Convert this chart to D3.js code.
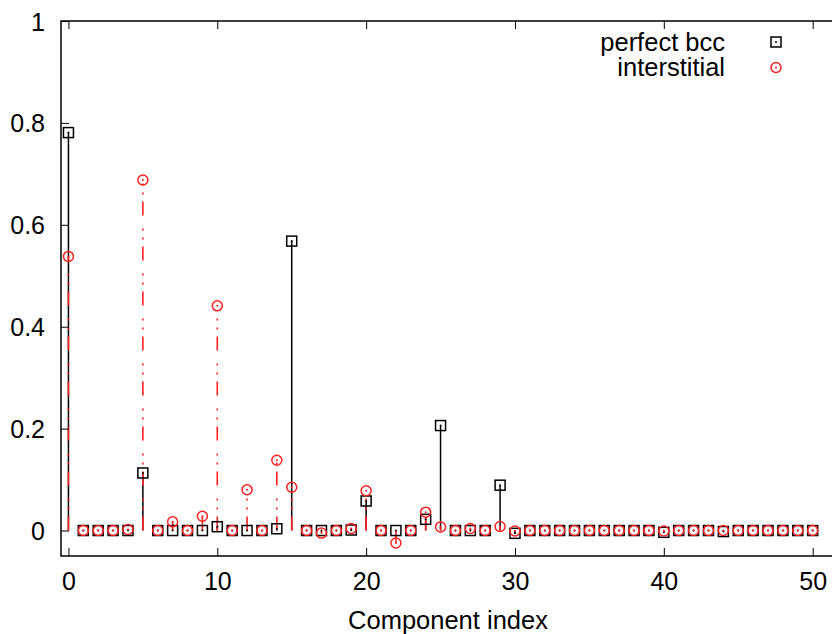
<!DOCTYPE html>
<html>
<head>
<meta charset="utf-8">
<script src="https://cdn.jsdelivr.net/npm/d3@7"></script>
<style>
  body { margin: 0; background: #fff; }
  text { font-family: "Liberation Sans", Arial, sans-serif; fill: #000; }
</style>
</head>
<body>
<div id="chart"></div>
<script>
// data, component index 0..50
const perfectBcc = [
  0.781, 0, 0, 0, 0, 0.113, 0, 0, 0, 0,
  0.0075, 0, 0, 0, 0.0035, 0.568, 0, 0, 0, 0.001,
  0.058, 0, 0, 0, 0.022, 0.206, 0, 0, 0, 0.089,
  -0.0055, 0, 0, 0, 0, 0, 0, 0, 0, 0,
  -0.0035, 0, 0, 0, -0.002, 0, 0, 0, 0, 0, 0
];
const interstitial = [
  0.538, 0, 0, 0, 0.002, 0.688, 0, 0.017, 0, 0.028,
  0.441, 0, 0.08, 0, 0.138, 0.085, 0, -0.005, 0, 0.004,
  0.078, 0, -0.0245, 0, 0.036, 0.007, 0, 0.004, 0, 0.008,
  -0.001, 0, 0, 0, 0, 0, 0, 0, 0, 0,
  -0.001, 0, 0, 0, 0, 0, 0, 0, 0, 0, 0
];
const xTicks = [0, 10, 20, 30, 40, 50];
const yTicks = [0, 0.2, 0.4, 0.6, 0.8, 1];
const seriesNames = ["perfect bcc", "interstitial"];

const width = 832, height = 634;
const margin = { left: 61, right: -3, top: 21, bottom: 78 };
const red = "#ff2020";
const fontSize = "25px";

const svg = d3.select("#chart").append("svg")
    .attr("width", width)
    .attr("height", height);

const x = d3.scaleLinear().domain([-0.5, 51.5]).range([margin.left, width - margin.right]);
const y = d3.scaleLinear().domain([-0.05, 1]).range([height - margin.bottom, margin.top]);

// impulses - black first, red dash-dot-dot on top
svg.append("g").selectAll("line")
    .data(perfectBcc.map((v, i) => [i, v]).filter(d => d[1] !== 0))
    .join("line")
    .attr("x1", d => x(d[0])).attr("x2", d => x(d[0]))
    .attr("y1", y(0)).attr("y2", d => y(d[1]))
    .attr("stroke", "#000")
    .attr("stroke-width", 1.5);

svg.append("g").selectAll("line")
    .data(interstitial.map((v, i) => [i, v]).filter(d => d[1] !== 0))
    .join("line")
    .attr("x1", d => x(d[0])).attr("x2", d => x(d[0]))
    .attr("y1", y(0)).attr("y2", d => y(d[1]))
    .attr("stroke", red)
    .attr("stroke-width", 1.6)
    .attr("stroke-dasharray", "14,7,2,7,2,13");

// points
function square(g, cx, cy) {
    g.append("rect")
        .attr("x", cx - 5).attr("y", cy - 5)
        .attr("width", 10).attr("height", 10)
        .attr("fill", "none").attr("stroke", "#000").attr("stroke-width", 1.5);
    g.append("circle").attr("cx", cx).attr("cy", cy).attr("r", 1).attr("fill", "#000");
}
function ring(g, cx, cy) {
    g.append("circle")
        .attr("cx", cx).attr("cy", cy).attr("r", 5)
        .attr("fill", "none").attr("stroke", red).attr("stroke-width", 1.5);
    g.append("circle").attr("cx", cx).attr("cy", cy).attr("r", 1).attr("fill", red);
}

const gSq = svg.append("g");
perfectBcc.forEach((v, i) => square(gSq, x(i), y(v)));
const gCi = svg.append("g");
interstitial.forEach((v, i) => ring(gCi, x(i), y(v)));

// axes, ticks pointing inward like gnuplot
const xAxisB = d3.axisBottom(x).tickValues(xTicks).tickSize(-8).tickPadding(16).tickFormat(d3.format("d"));
const xAxisT = d3.axisTop(x).tickValues(xTicks).tickSize(-8).tickFormat("");
const yAxisL = d3.axisLeft(y).tickValues(yTicks).tickSize(-8).tickPadding(16).tickFormat(d => d3.format("")(+d.toFixed(1)));

function styleAxis(g) {
    g.select(".domain").remove();
    g.selectAll(".tick line").attr("stroke", "#000").attr("stroke-width", 1);
    g.selectAll("text").style("font-size", fontSize).attr("fill", "#000");
}

svg.append("g").attr("transform", `translate(0,${y(-0.05)})`).call(xAxisB).call(styleAxis);
svg.append("g").attr("transform", `translate(0,${y(1)})`).call(xAxisT).call(styleAxis);
svg.append("g").attr("transform", `translate(${x(-0.5)},0)`).call(yAxisL).call(styleAxis)
    .selectAll("text").attr("dy", "0.36em");

// border
svg.append("rect")
    .attr("x", x(-0.5)).attr("y", y(1))
    .attr("width", x(51.5) - x(-0.5)).attr("height", y(-0.05) - y(1))
    .attr("fill", "none").attr("stroke", "#000").attr("stroke-width", 1.5);

svg.append("text")
    .attr("x", (x(-0.5) + x(51.5)) / 2)
    .attr("y", 629)
    .attr("text-anchor", "middle")
    .style("font-size", "25.5px")
    .text("Component index");

// legend
const legend = svg.append("g");
seriesNames.forEach((name, i) => {
    const ly = 42 + i * 25.5;
    legend.append("text")
        .attr("x", 725).attr("y", ly + 8.5)
        .attr("text-anchor", "end")
        .style("font-size", "25.5px")
        .text(name);
    if (i === 0) square(legend, 776, ly);
    else ring(legend, 776, ly);
});
</script>
</body>
</html>
